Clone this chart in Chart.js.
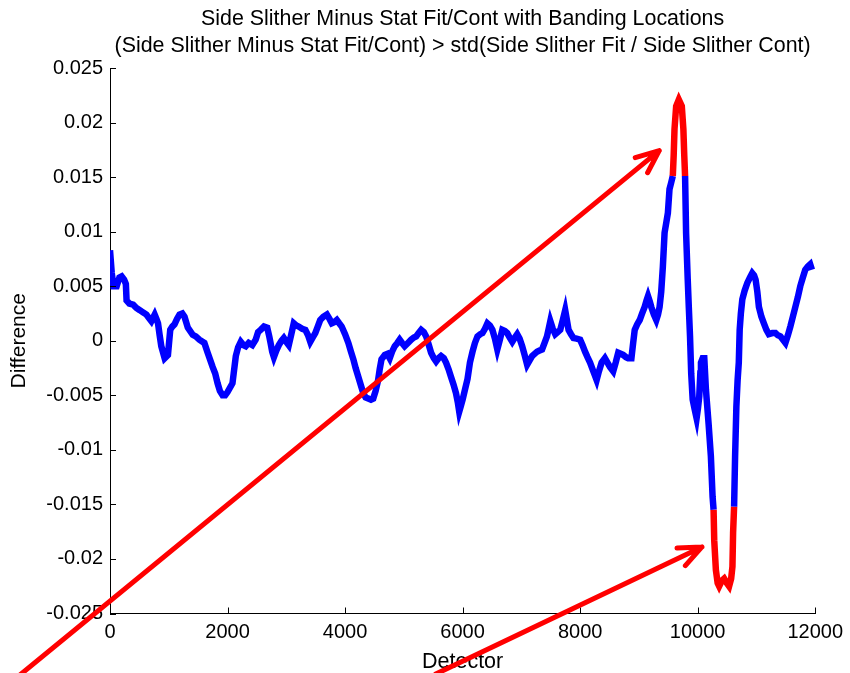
<!DOCTYPE html>
<html>
<head>
<meta charset="utf-8">
<script src="https://cdn.jsdelivr.net/npm/chart.js@4/dist/chart.umd.min.js"></script>
<style>
  html, body { margin: 0; padding: 0; background: #ffffff; }
  #wrap { width: 850px; height: 673px; }
</style>
</head>
<body>
<div id="wrap"><canvas id="c" width="850" height="673"></canvas></div>
<script>
// Detector index along the slither
const detector = [
  0, 30, 60, 113, 160, 198, 240, 270, 282, 330, 394, 450, 507, 560, 620, 660, 704, 760, 790, 817,
  845, 873, 930, 986, 1025, 1060, 1098, 1140, 1183, 1230, 1268, 1324, 1408, 1460, 1521, 1606, 1662, 1746, 1790, 1831,
  1870, 1916, 1960, 2000, 2084, 2141, 2180, 2225, 2270, 2310, 2360, 2422, 2479, 2520, 2563, 2620, 2676, 2710, 2732, 2760,
  2789, 2830, 2873, 2920, 2958, 3000, 3042, 3085, 3127, 3170, 3211, 3270, 3324, 3370, 3408, 3450, 3493, 3535, 3577, 3630,
  3690, 3735, 3774, 3815, 3859, 3900, 3943, 4000, 4056, 4100, 4141, 4180, 4225, 4270, 4310, 4350, 4394, 4440, 4479, 4520,
  4563, 4590, 4620, 4676, 4720, 4760, 4800, 4845, 4890, 4929, 4970, 5014, 5070, 5124, 5170, 5210, 5250, 5295, 5340, 5380,
  5420, 5464, 5510, 5549, 5590, 5633, 5680, 5718, 5760, 5802, 5845, 5887, 5920, 5943, 5970, 6000, 6040, 6084, 6125, 6169,
  6210, 6253, 6300, 6338, 6380, 6422, 6465, 6507, 6550, 6591, 6630, 6676, 6720, 6760, 6800, 6845, 6890, 6929, 6970, 7014,
  7055, 7098, 7140, 7183, 7225, 7267, 7310, 7352, 7395, 7436, 7465, 7493, 7535, 7577, 7620, 7662, 7705, 7746, 7775, 7803,
  7845, 7887, 7940, 8000, 8040, 8084, 8125, 8169, 8225, 8281, 8320, 8366, 8422, 8465, 8507, 8563, 8605, 8648, 8690, 8732,
  8780, 8817, 8873, 8900, 8929, 8970, 9014, 9055, 9098, 9130, 9155, 9185, 9211, 9255, 9296, 9325, 9352, 9380, 9408, 9437,
  9465, 9493, 9521, 9550, 9577, 9592, 9606, 9634, 9679, 9730, 9757, 9772, 9786, 9803, 9831, 9850, 9870, 9890, 9915, 9950,
  9982, 10005, 10027, 10045, 10056, 10085, 10113, 10141, 10186, 10225, 10254, 10271, 10282, 10310, 10340, 10366, 10410, 10451, 10495, 10535,
  10570, 10592, 10603, 10620, 10637, 10659, 10680, 10700, 10715, 10735, 10760, 10800, 10845, 10890, 10929, 10960, 10986, 11015, 11042, 11085,
  11127, 11170, 11211, 11270, 11324, 11365, 11408, 11450, 11493, 11535, 11577, 11620, 11662, 11705, 11746, 11790, 11831, 11875, 11915, 11944
];

// Side slither minus stat fit/cont, per detector
const difference = [
  0.0083, 0.0062, 0.0050, 0.0050, 0.0058, 0.0059, 0.0056, 0.0052, 0.0037, 0.0034, 0.0033, 0.0030, 0.0028, 0.0026, 0.0024, 0.0021, 0.0018, 0.0024, 0.0020, 0.0016,
  0.0005, -0.0005, -0.0016, -0.0013, 0.0010, 0.0013, 0.0015, 0.0020, 0.0024, 0.0025, 0.0022, 0.0012, 0.00055, 0.0004, 0.0001, -0.0002, -0.0011, -0.0024, -0.0030, -0.0039,
  -0.0046, -0.0050, -0.0050, -0.0047, -0.0039, -0.0014, -0.0006, -0.0001, -0.0004, -0.0005, -0.0002, -0.0004, 0.0001, 0.0008, 0.0010, 0.0013, 0.0012, 0.0004, -0.0002, -0.0010,
  -0.0015, -0.0009, -0.0004, 0.0000, 0.00025, -0.0001, -0.0004, 0.0006, 0.0016, 0.0014, 0.0013, 0.0011, 0.0010, 0.0005, -0.0001, 0.0003, 0.0007, 0.0013, 0.0019, 0.0022,
  0.0024, 0.0020, 0.0016, 0.0017, 0.0019, 0.0016, 0.0013, 0.0006, -0.0002, -0.0010, -0.0017, -0.0025, -0.0033, -0.0041, -0.0048, -0.0052, -0.0053, -0.0054, -0.0053, -0.0046,
  -0.0036, -0.0026, -0.0017, -0.0013, -0.0012, -0.0016, -0.0010, -0.0005, -0.0002, 0.0001, -0.0002, -0.0005, -0.0002, 0.0001, 0.0003, 0.0004, 0.0007, 0.0010, 0.0008, 0.0004,
  -0.0003, -0.0011, -0.0016, -0.0019, -0.0016, -0.0014, -0.0016, -0.0020, -0.0026, -0.0033, -0.0040, -0.0048, -0.0057, -0.0065, -0.0060, -0.0054, -0.0045, -0.0035, -0.0020, -0.0010,
  -0.0002, 0.0004, 0.0006, 0.0007, 0.0011, 0.0016, 0.0014, 0.0010, 0.0002, -0.0008, 0.0000, 0.0010, 0.0009, 0.0007, 0.0003, -0.0001, 0.0003, 0.0006, 0.0002, -0.0005,
  -0.0013, -0.0022, -0.0018, -0.0014, -0.0012, -0.0010, -0.0009, -0.0008, -0.0002, 0.0004, 0.0011, 0.0018, 0.0011, 0.0006, 0.0008, 0.0010, 0.0019, 0.0028, 0.0019, 0.0010,
  0.0006, 0.00025, 0.0002, 0.0001, -0.0004, -0.0010, -0.0015, -0.0020, -0.0028, -0.0036, -0.0028, -0.0020, -0.0016, -0.0020, -0.0024, -0.0028, -0.0020, -0.0011, -0.0012, -0.0013,
  -0.0015, -0.0016, -0.0016, -0.0003, 0.0010, 0.0015, 0.0019, 0.0025, 0.0031, 0.0037, 0.0041, 0.0036, 0.0031, 0.0024, 0.0019, 0.0024, 0.0031, 0.0045, 0.0068, 0.0099,
  0.0108, 0.0117, 0.0139, 0.0145, 0.0151, 0.0170, 0.0194, 0.0215, 0.0221, 0.0215, 0.0194, 0.0170, 0.0151, 0.0099, 0.0056, 0.0030, 0.0004, -0.0030, -0.0054, -0.0063,
  -0.0071, -0.0062, -0.0051, -0.0030, -0.0020, -0.0016, -0.0016, -0.0045, -0.0076, -0.0106, -0.0143, -0.0155, -0.0183, -0.0210, -0.0222, -0.0225, -0.0220, -0.0218, -0.0222, -0.0225,
  -0.0218, -0.0207, -0.0176, -0.0152, -0.0106, -0.0060, -0.0036, -0.0020, 0.0010, 0.0025, 0.0038, 0.0046, 0.0053, 0.0058, 0.0062, 0.0060, 0.0056, 0.0045, 0.0031, 0.0022,
  0.0016, 0.0010, 0.0006, 0.0007, 0.0007, 0.0005, 0.0004, 0.0001, -0.0002, 0.0005, 0.0013, 0.0022, 0.0031, 0.0040, 0.0050, 0.0058, 0.0065, 0.0068, 0.0070, 0.0065
];

// Banding is flagged where |difference| exceeds this level
const bandingThreshold = 0.015;

// Axis ticks
const xTickValues = [0, 2000, 4000, 6000, 8000, 10000, 12000];
const xTickLabels = ['0', '2000', '4000', '6000', '8000', '10000', '12000'];
const yTickValues = [-0.025, -0.02, -0.015, -0.01, -0.005, 0, 0.005, 0.01, 0.015, 0.02, 0.025];
const yTickLabels = ['-0.025', '-0.02', '-0.015', '-0.01', '-0.005', '0', '0.005', '0.01', '0.015', '0.02', '0.025'];

// Two-line heading, centred over the axes
const titleLines = [
  'Side Slither Minus Stat Fit/Cont with Banding Locations',
  '(Side Slither Minus Stat Fit/Cont) > std(Side Slither Fit / Side Slither Cont)'
];

// Pointer arrows toward the banding locations, in data units [tailX, tailY, tipX, tipY]
const arrows = [
  [-1555, -0.03073, 9346, 0.01743],
  [5543, -0.03055, 10073, -0.0189]
];

const BLUE = '#0000ff';
const RED = '#ff0000';
const FONT = "'Liberation Sans', Arial, sans-serif";

const points = detector.map((d, i) => ({ x: d, y: difference[i] }));
const isBand = v => Math.abs(v) >= bandingThreshold;

// Heading drawn centred on the plot area
const axesTitle = {
  id: 'axesTitle',
  afterDraw(chart) {
    const { ctx, chartArea: a } = chart;
    const cx = (a.left + a.right) / 2;
    ctx.save();
    ctx.fillStyle = '#000';
    ctx.font = `21.4px ${FONT}`;
    ctx.textAlign = 'center';
    ctx.textBaseline = 'middle';
    titleLines.forEach((t, i) => ctx.fillText(t, cx, 19 + i * 27));
    ctx.restore();
  }
};

// Inward-pointing tick marks on the left and bottom axes
const innerTicks = {
  id: 'innerTicks',
  afterDraw(chart) {
    const { ctx, chartArea: a, scales: { x, y } } = chart;
    const len = 6;
    ctx.save();
    ctx.strokeStyle = '#000';
    ctx.lineWidth = 1;
    ctx.beginPath();
    xTickValues.forEach(v => {
      const px = Math.round(x.getPixelForValue(v)) + 0.5;
      ctx.moveTo(px, a.bottom);
      ctx.lineTo(px, a.bottom - len);
    });
    yTickValues.forEach(v => {
      const py = Math.round(y.getPixelForValue(v)) + 0.5;
      ctx.moveTo(a.left, py);
      ctx.lineTo(a.left + len, py);
    });
    ctx.stroke();
    ctx.restore();
  }
};

// Red pointer arrows with open heads
const pointerArrows = {
  id: 'pointerArrows',
  afterDraw(chart) {
    const { ctx, scales: { x, y } } = chart;
    ctx.save();
    ctx.strokeStyle = RED;
    ctx.lineWidth = 5;
    ctx.lineCap = 'round';
    ctx.lineJoin = 'round';
    arrows.forEach(([tx, ty, hx, hy]) => {
      const x0 = x.getPixelForValue(tx), y0 = y.getPixelForValue(ty);
      const x1 = x.getPixelForValue(hx), y1 = y.getPixelForValue(hy);
      const ang = Math.atan2(y0 - y1, x0 - x1);
      const head = 25, spread = 0.4;
      ctx.beginPath();
      ctx.moveTo(x0, y0);
      ctx.lineTo(x1, y1);
      ctx.moveTo(x1 + head * Math.cos(ang + spread), y1 + head * Math.sin(ang + spread));
      ctx.lineTo(x1, y1);
      ctx.lineTo(x1 + head * Math.cos(ang - spread), y1 + head * Math.sin(ang - spread));
      ctx.stroke();
    });
    ctx.restore();
  }
};

new Chart(document.getElementById('c'), {
  type: 'line',
  data: {
    datasets: [{
      data: points,
      borderColor: BLUE,
      borderWidth: 6.5,
      pointRadius: 0,
      tension: 0,
      fill: false,
      segment: {
        borderColor: c => (isBand(c.p0.parsed.y) && isBand(c.p1.parsed.y)) ? RED : BLUE
      }
    }]
  },
  options: {
    responsive: false,
    animation: false,
    devicePixelRatio: 1,
    layout: { padding: { left: 0, right: 30, top: 68, bottom: 0 } },
    plugins: {
      legend: { display: false },
      tooltip: { enabled: false },
      title: { display: false }
    },
    scales: {
      x: {
        type: 'linear',
        min: 0,
        max: 12000,
        afterBuildTicks: s => { s.ticks = xTickValues.map(v => ({ value: v })); },
        afterFit: s => { s.height = 59.5; },
        ticks: {
          color: '#000',
          font: { family: FONT, size: 20 },
          padding: 7,
          maxRotation: 0,
          autoSkip: false,
          callback: (v) => xTickLabels[xTickValues.indexOf(v)]
        },
        grid: { display: true, drawOnChartArea: false, drawTicks: false },
        border: { display: true, color: '#000', width: 1 },
        title: {
          display: true,
          text: 'Detector',
          color: '#000',
          font: { family: FONT, size: 21.5, lineHeight: 1 },
          padding: { top: 0, bottom: 0 }
        }
      },
      y: {
        type: 'linear',
        min: -0.025,
        max: 0.025,
        afterBuildTicks: s => { s.ticks = yTickValues.map(v => ({ value: v })); },
        afterFit: s => { s.width = 110; },
        ticks: {
          color: '#000',
          font: { family: FONT, size: 20 },
          padding: 7,
          autoSkip: false,
          callback: (v) => {
            const i = yTickValues.findIndex(t => Math.abs(t - v) < 1e-9);
            return i >= 0 ? yTickLabels[i] : '';
          }
        },
        grid: { display: true, drawOnChartArea: false, drawTicks: false },
        border: { display: true, color: '#000', width: 1 },
        title: {
          display: true,
          text: 'Difference',
          color: '#000',
          font: { family: FONT, size: 21 },
          padding: { top: 7, bottom: 0 }
        }
      }
    }
  },
  plugins: [axesTitle, innerTicks, pointerArrows]
});
</script>
</body>
</html>
